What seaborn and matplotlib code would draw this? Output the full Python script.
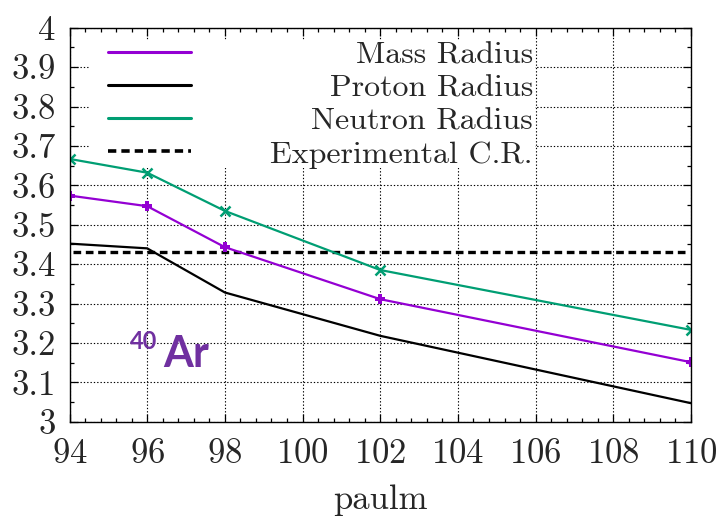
import numpy as np
import pandas as pd
import seaborn as sns
import matplotlib.pyplot as plt
from matplotlib.lines import Line2D
from matplotlib.patches import Rectangle
from matplotlib.ticker import MultipleLocator, FuncFormatter

PAULM = [94, 96, 98, 102, 110]
MASS_RADIUS = [3.574, 3.547, 3.443, 3.311, 3.151]
PROTON_RADIUS = [3.452, 3.440, 3.328, 3.218, 3.047]
NEUTRON_RADIUS = [3.667, 3.632, 3.535, 3.385, 3.233]
EXP_CR = 3.430

LABELS = ["Mass Radius", "Proton Radius", "Neutron Radius", "Experimental C.R."]
COLORS = {"mass": "#9400D3", "proton": "#000000", "neutron": "#009E73"}

df = pd.DataFrame({
    "paulm": PAULM * 3,
    "radius": MASS_RADIUS + PROTON_RADIUS + NEUTRON_RADIUS,
    "kind": ["mass"] * 5 + ["proton"] * 5 + ["neutron"] * 5,
})

sns.set_theme(style="ticks")
plt.rcParams["font.family"] = ["cmr10", "DejaVu Serif"]
plt.rcParams["axes.formatter.use_mathtext"] = True
plt.rcParams["mathtext.fontset"] = "cm"

fig = plt.figure(figsize=(7.18, 5.17), dpi=100)
ax = fig.add_axes([0.0968, 0.1843, 0.8656, 0.7621])

ax.set_axisbelow(True)
ax.grid(True, which="major", color="black", linestyle=(0, (1.2, 1.8)), linewidth=0.8)

# white box behind the key (hides grid there)
ax.add_patch(Rectangle((0.031, 0.644), 0.718, 0.325, transform=ax.transAxes,
                       facecolor="white", edgecolor="none", zorder=1))

sns.lineplot(data=df[df.kind == "proton"], x="paulm", y="radius", color=COLORS["proton"],
             linewidth=1.6, ax=ax, zorder=3, legend=False)
sns.lineplot(data=df[df.kind == "mass"], x="paulm", y="radius", color=COLORS["mass"],
             linewidth=1.6, marker="P", markersize=7, markeredgewidth=0,
             ax=ax, zorder=3, legend=False)
sns.lineplot(data=df[df.kind == "neutron"], x="paulm", y="radius", color=COLORS["neutron"],
             linewidth=1.6, marker="x", markersize=7, markeredgewidth=1.8,
             markeredgecolor=COLORS["neutron"], ax=ax, zorder=3, legend=False)
ax.axhline(EXP_CR, xmin=0.005, xmax=0.99, color="black", linewidth=2.4,
           linestyle=(0, (2.3, 1.4)), zorder=2.5)

ax.set_xlim(94, 110)
ax.set_ylim(3.0, 4.0)
ax.xaxis.set_major_locator(MultipleLocator(2))
ax.xaxis.set_minor_locator(MultipleLocator(0.4))
ax.yaxis.set_major_locator(MultipleLocator(0.1))
ax.yaxis.set_minor_locator(MultipleLocator(0.05))
ax.yaxis.set_major_formatter(FuncFormatter(lambda v, p: f"{v:g}"))
ax.tick_params(which="both", direction="in", top=True, right=True, color="black")
ax.tick_params(which="major", length=5.5, width=0.9, labelsize=25)
ax.tick_params(axis="x", which="major", pad=12)
ax.tick_params(axis="y", which="major", pad=10)
ax.tick_params(which="minor", length=3, width=0.9)
for s in ax.spines.values():
    s.set_color("black")
    s.set_linewidth(1.0)
    s.set_zorder(4)

ax.set_xlabel("paulm", fontsize=25, labelpad=10)
ax.set_ylabel("")

handles = [
    Line2D([], [], color=COLORS["mass"], linewidth=2.2),
    Line2D([], [], color=COLORS["proton"], linewidth=2.2),
    Line2D([], [], color=COLORS["neutron"], linewidth=2.2),
    Line2D([], [], color="black", linewidth=2.6, linestyle=(0, (2.3, 1.4))),
]
leg = ax.legend(handles, LABELS, loc="upper left", bbox_to_anchor=(0.062, 0.967),
                frameon=False, fontsize=23, handlelength=2.6, handletextpad=0.5,
                labelspacing=0.15, borderpad=0, borderaxespad=0)
leg.set_zorder(5)

# right-align the key texts so they end at the same x
fig.canvas.draw()
renderer = fig.canvas.get_renderer()
exts = [t.get_window_extent(renderer) for t in leg.get_texts()]
text_left = min(e.x0 for e in exts)
for t, e in zip(leg.get_texts(), exts):
    t.set_position((533 - text_left - e.width, 0))

ax.text(96.42, 3.139, "Ar", color="#7030A0", fontsize=31, fontweight="bold",
        family="Lato", ha="left", va="baseline", zorder=5)
ax.text(96.25, 3.184, "40", color="#7030A0", fontsize=17, fontweight="bold",
        family="Lato", ha="right", va="baseline", zorder=5)

fig.savefig("out.png", dpi=100)
